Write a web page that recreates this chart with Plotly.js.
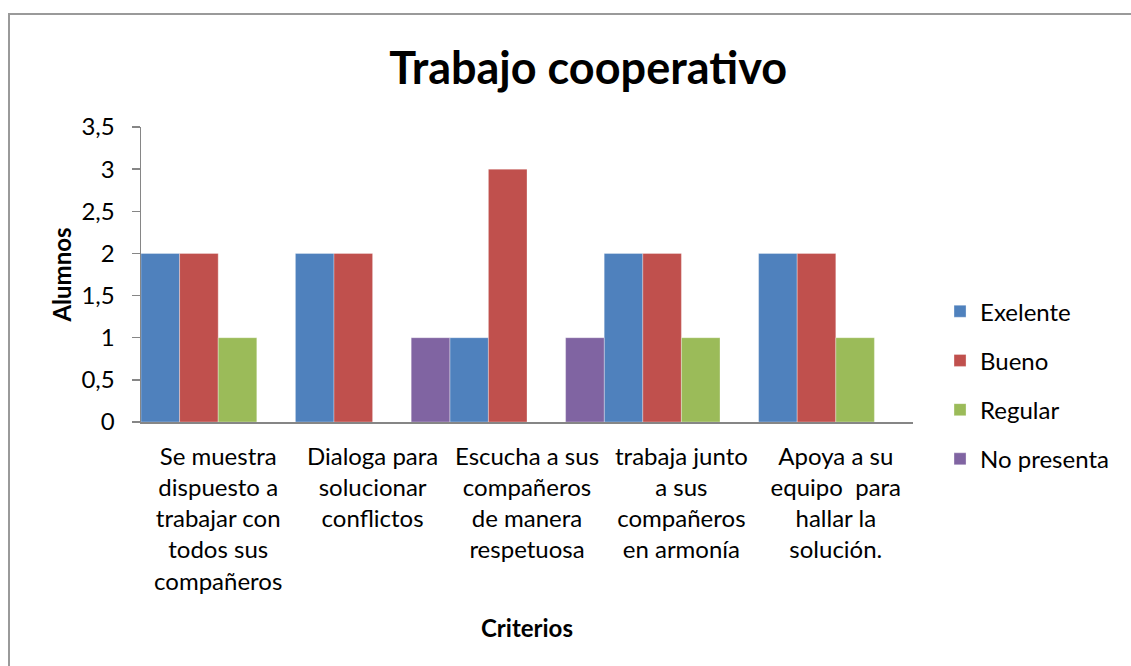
<!DOCTYPE html>
<html>
<head>
<meta charset="utf-8">
<script src="https://cdn.plot.ly/plotly-3.0.1.min.js"></script>
<style>
  html, body { margin: 0; padding: 0; background: #fff; }
  #frame { position: absolute; left: 8px; top: 13px; width: 1200px; height: 700px;
           border-top: 2px solid #9a9a9a; border-left: 2px solid #9a9a9a; pointer-events: none; z-index: 5; }
  #chart { position: absolute; left: 0; top: 0; width: 1131px; height: 666px; }
</style>
</head>
<body>
<div id="chart"></div>
<div id="frame"></div>
<script>
const categories = [
  "Se muestra<br>dispuesto a<br>trabajar con<br>todos sus<br>compañeros",
  "Dialoga para<br>solucionar<br>conflictos",
  "Escucha a sus<br>compañeros<br>de manera<br>respetuosa",
  "trabaja junto<br>a sus<br>compañeros<br>en armonía",
  "Apoya a su<br>equipo  para<br>hallar la<br>solución."
];
const seriesNames = ["Exelente", "Bueno", "Regular", "No presenta"];
const exelente   = [2, 2, 1, 2, 2];
const bueno      = [2, 2, 3, 2, 2];
const regular    = [1, 0, 0, 1, 1];
const noPresenta = [0, 1, 1, 0, 0];
const yTicks = [0, 0.5, 1, 1.5, 2, 2.5, 3, 3.5];

const colors = ["#4F81BD", "#C0504D", "#9BBB59", "#8064A2"];
const values = [exelente, bueno, regular, noPresenta];
const catIdx = categories.map((c, i) => i);

const traces = values.map((v, i) => ({
  type: "bar",
  name: seriesNames[i],
  x: catIdx,
  y: v,
  legendgroup: "g" + i,
  marker: { color: colors[i], line: { color: "rgba(255,255,255,0.45)", width: 0.7 } },
  hoverinfo: "y+name"
}));

const F = "Lato, 'Open Sans', sans-serif";
const FS = 24;

const layout = {
  width: 1131, height: 666,
  margin: { l: 141, r: 218, t: 127, b: 244 },
  paper_bgcolor: "#fff", plot_bgcolor: "#fff",
  separators: ", ",
  barmode: "group", bargap: 0, bargroupgap: 0,
  font: { family: F, color: "#000", size: FS },
  title: { text: "<b>Trabajo cooperativo</b>", font: { family: F, size: 45, color: "#000" },
           x: 0.52, xref: "container", xanchor: "center", y: 0.898, yref: "container", yanchor: "middle" },
  xaxis: {
    range: [-0.5, 4.5], tickmode: "array", tickvals: catIdx, ticktext: categories,
    showgrid: false, zeroline: false, showline: true, linecolor: "#868686", linewidth: 2,
    ticks: "", ticklabelstandoff: 12, tickfont: { family: F, size: FS, color: "#000" }, automargin: false,
    title: { text: "<b>Criterios</b>", font: { family: F, size: FS, color: "#000" }, standoff: 27 }
  },
  yaxis: {
    range: [0, 3.5], tickmode: "array", tickvals: yTicks,
    showgrid: false, zeroline: false, showline: true, linecolor: "#868686", linewidth: 1.5,
    ticks: "outside", ticklen: 8, tickcolor: "#868686", tickwidth: 1.5, ticklabelstandoff: 12,
    tickfont: { family: F, size: FS, color: "#000" }, automargin: false,
    title: { text: "<b>Alumnos</b>", font: { family: F, size: FS, color: "#000" }, standoff: 3 }
  },
  legend: {
    x: 1.035, xanchor: "left", y: 0.125, yanchor: "middle",
    font: { family: F, size: FS, color: "#000" },
    traceorder: "grouped", tracegroupgap: 15, bgcolor: "rgba(0,0,0,0)"
  },
  showlegend: true
};

Plotly.newPlot("chart", traces, layout, { displayModeBar: false, staticPlot: true });
</script>
</body>
</html>
